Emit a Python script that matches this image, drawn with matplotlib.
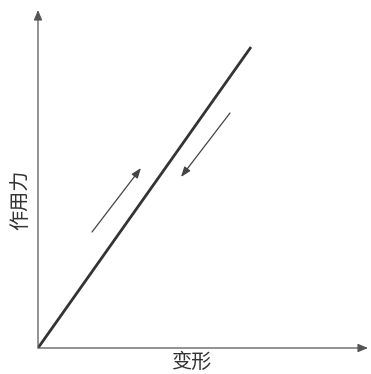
import matplotlib
matplotlib.use("Agg")
import matplotlib.pyplot as plt

plt.rcParams['font.family'] = ['Noto Sans CJK SC', 'DejaVu Sans']

# loading line: force vs deformation (arbitrary units)
load_x = [0, 213]
load_y = [0, 301]

# direction arrows: (start, end)
up_arrow = [(54, 116), (103, 180)]
down_arrow = [(192, 235), (143, 171)]

x_label = "变形"
y_label = "作用力"

fig = plt.figure(figsize=(3.71, 3.74), dpi=100)
ax = fig.add_axes([38 / 371, 26 / 374, 330 / 371, 338 / 374])
ax.set_xlim(0, 330)
ax.set_ylim(0, 338)
ax.axis("off")

# axes with arrow heads
axis_style = dict(arrowstyle="-|>,head_length=0.6,head_width=0.25",
                  color="#555555", lw=0.9, shrinkA=0, shrinkB=0)
ax.annotate("", xy=(1, 0), xytext=(0, 0), xycoords="axes fraction",
            arrowprops=axis_style, annotation_clip=False)
ax.annotate("", xy=(0, 1), xytext=(0, 0), xycoords="axes fraction",
            arrowprops=axis_style, annotation_clip=False)

ax.plot(load_x, load_y, color="#333333", lw=2.0, solid_capstyle="butt")

small_style = dict(arrowstyle="-|>,head_length=0.6,head_width=0.22",
                   color="#444444", lw=0.9, shrinkA=0, shrinkB=0)
for start, end in [up_arrow, down_arrow]:
    ax.annotate("", xy=end, xytext=start, arrowprops=small_style)

fig.text(192 / 371, 1 - 362 / 374, x_label, fontsize=14.5, color="#333333",
         ha="center", va="center")
fig.text(21 / 371, 1 - 200 / 374, y_label, fontsize=14.5, color="#333333",
         ha="center", va="center", rotation=90)

fig.savefig("out.png", dpi=100)
